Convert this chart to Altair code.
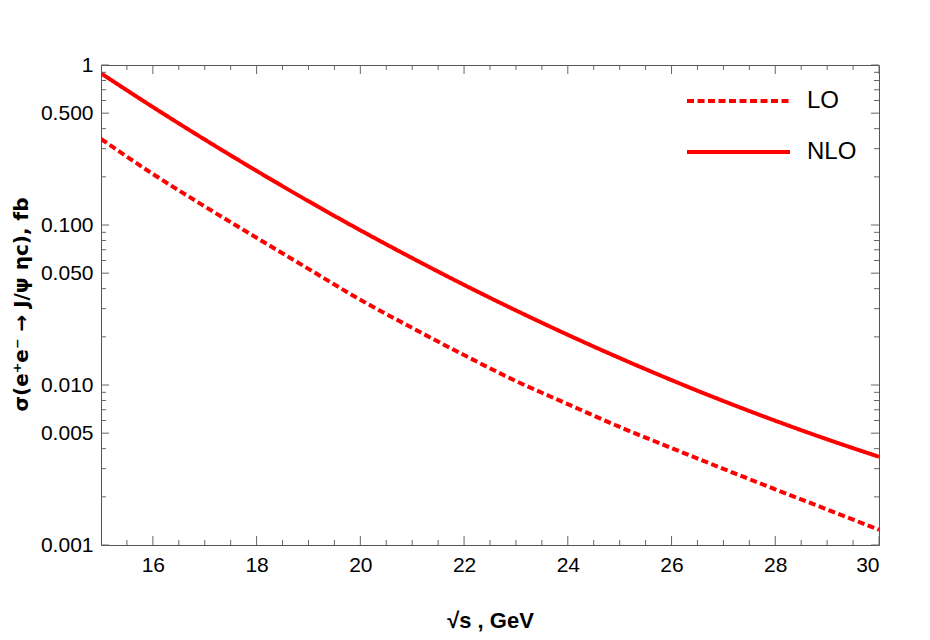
import altair as alt
import pandas as pd

# ---- data ----
sqrt_s = [15, 16, 17, 18, 19, 20, 21, 22, 23, 24, 25, 26, 27, 28, 29, 30]
sigma_nlo = [0.887, 0.546, 0.342, 0.2178, 0.1408, 0.0927, 0.0621, 0.04224, 0.02924,
             0.02059, 0.01474, 0.01073, 0.00794, 0.00598, 0.004576, 0.00356]
sigma_lo = [0.345, 0.2084, 0.1306, 0.0832, 0.0532, 0.0341, 0.02275, 0.01538, 0.01059,
            0.00759, 0.00547, 0.004036, 0.002992, 0.002228, 0.001667, 0.001245]
series = ["LO", "NLO"]

x_major = [16, 18, 20, 22, 24, 26, 28, 30]
x_minor = [v / 2 for v in range(31, 60) if v % 4 != 0]
y_major = [0.001, 0.005, 0.01, 0.05, 0.1, 0.5, 1]
y_minor = [m * 10.0 ** e for e in (-3, -2, -1) for m in (2, 3, 4, 6, 7, 8, 9)]

W, H = 778, 480
FONT = "Liberation Sans"

df = pd.DataFrame({
    "x": sqrt_s * 2,
    "y": sigma_lo + sigma_nlo,
    "series": ["LO"] * len(sqrt_s) + ["NLO"] * len(sqrt_s),
})

xscale = alt.Scale(domain=[15, 30], nice=False, zero=False)
yscale = alt.Scale(type="log", domain=[0.001, 1], nice=False)

xaxis = alt.Axis(
    values=x_major, format="d", ticks=False, domain=False, grid=False,
    labelFontSize=21, labelFont=FONT, labelColor="black", labelPadding=9,
    title="√s , GeV", titleFont=FONT, titleFontSize=22, titleFontWeight="bold",
    titleColor="black", titleY=82, titleBaseline="alphabetic",
    titleAlign="center")
yaxis = alt.Axis(
    values=y_major, labelExpr="datum.value >= 1 ? '1' : format(datum.value, '.3f')",
    ticks=False, domain=False, grid=False,
    labelFontSize=21, labelFont=FONT, labelColor="black", labelPadding=8,
    title="σ(e⁺e⁻ → J/ψ ηc), fb", titleFont="DejaVu Sans", titleFontSize=20,
    titleFontWeight="bold", titleColor="black", titleAngle=-90,
    titleX=-80, titleY=239, titleAlign="center", titleBaseline="middle")

lines = alt.Chart(df).mark_line(
    color="#ff0000", strokeWidth=4, interpolate="monotone", clip=True
).encode(
    x=alt.X("x:Q", scale=xscale, axis=xaxis),
    y=alt.Y("y:Q", scale=yscale, axis=yaxis),
    strokeDash=alt.StrokeDash("series:N", scale=alt.Scale(
        domain=series, range=[[7, 3.5], [1, 0]]), legend=alt.Legend(
        title=None, orient="none", legendX=584, legendY=24, padding=0,
        symbolType="stroke", symbolSize=10600, symbolStrokeWidth=4,
        symbolStrokeColor="#ff0000", labelFont=FONT, labelFontSize=24,
        labelColor="black", labelOffset=15, clipHeight=24, rowPadding=27)),
)


def xticks(values, length, top):
    d = pd.DataFrame({"x": values})
    y0 = 0 if top else H
    y1 = length if top else H - length
    return alt.Chart(d).mark_rule(color="#666666", strokeWidth=1).encode(
        x=alt.X("x:Q", scale=xscale, axis=xaxis),
        y=alt.value(y0), y2=alt.value(y1))


def yticks(values, length, right):
    d = pd.DataFrame({"y": values})
    x0 = W if right else 0
    x1 = W - length if right else length
    return alt.Chart(d).mark_rule(color="#666666", strokeWidth=1).encode(
        y=alt.Y("y:Q", scale=yscale, axis=yaxis),
        x=alt.value(x0), x2=alt.value(x1))


ticks = [
    xticks(x_major, 9, False), xticks(x_minor, 5, False),
    xticks(x_major, 9, True), xticks(x_minor, 5, True),
    yticks(y_major, 8, False), yticks(y_minor, 5, False),
    yticks(y_major, 8, True), yticks(y_minor, 5, True),
]

chart = alt.layer(lines, *ticks).properties(
    width=W, height=H, background="white",
    autosize=alt.AutoSizeParams(type="none"),
    padding={"left": 93, "top": 57, "right": 35, "bottom": 87},
).configure_view(stroke="#555555", strokeWidth=1)

chart.save("out.html", embed_options={"renderer": "svg", "actions": False})
